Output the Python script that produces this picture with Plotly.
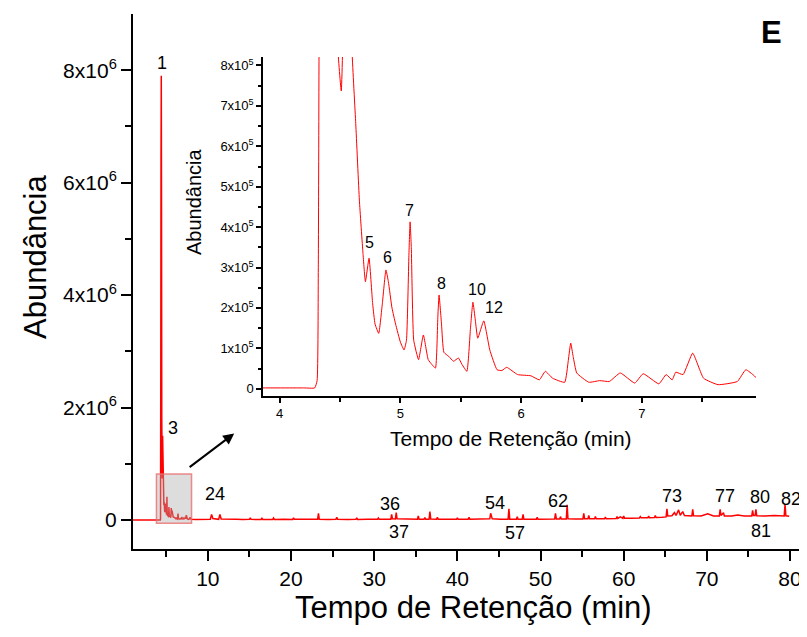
import plotly.graph_objects as go

# ---- dados (tempo em min, abundância em milhares de contagens) ----
trecho_inicial = [
    (1.0, 2), (3.0, 2), (4.20, 2), (4.29, 2), (4.31, 20), (4.32, 300), (4.34, 2500), (4.37, 6500),
    (4.40, 7900), (4.43, 5500), (4.46, 1800), (4.48, 850), (4.51, 737), (4.53, 950),
    (4.56, 1500), (4.58, 1100), (4.60, 830), (4.63, 656), (4.66, 467), (4.69, 335),
    (4.71, 265), (4.74, 323), (4.77, 210), (4.79, 160), (4.82, 137), (4.85, 210),
    (4.88, 294), (4.90, 265), (4.93, 200), (4.96, 160), (5.00, 115), (5.03, 96),
    (5.05, 120), (5.07, 330), (5.08, 413), (5.09, 350), (5.11, 120), (5.15, 72),
    (5.19, 133), (5.23, 72), (5.26, 60), (5.29, 51), (5.31, 180), (5.32, 232),
    (5.34, 160), (5.36, 90), (5.40, 80), (5.44, 68), (5.48, 76), (5.51, 60),
    (5.55, 43), (5.58, 150), (5.60, 214), (5.62, 170), (5.64, 125), (5.69, 168),
    (5.74, 96), (5.80, 47), (5.84, 45), (5.88, 53), (5.97, 35), (6.08, 32),
    (6.15, 22), (6.20, 43), (6.26, 26), (6.36, 16), (6.39, 70), (6.41, 113),
    (6.43, 80), (6.46, 39), (6.56, 16), (6.65, 20), (6.73, 18), (6.82, 39),
    (6.94, 14), (7.01, 37), (7.14, 12), (7.20, 35), (7.25, 22), (7.28, 41),
    (7.34, 35), (7.42, 88), (7.51, 26), (7.63, 10), (7.79, 18), (7.86, 47),
    (7.93, 32),
]

trecho_final = [
    (8.0, 12), (8.6, 9), (9.3, 11), (10.0, 10), (10.3, 14), (10.45, 100), (10.6, 25),
    (11.3, 12), (11.45, 100), (11.6, 18), (12.5, 9), (13.4, 12), (14.2, 10),
    (15.0, 11), (15.1, 40), (15.2, 11), (16.4, 9), (16.5, 30), (16.6, 9),
    (17.8, 10), (17.9, 35), (18.0, 10), (19.2, 12), (20.2, 10), (20.3, 40), (20.4, 11),
    (21.6, 12), (23.2, 11), (23.3, 120), (23.4, 12), (24.5, 10), (25.4, 11), (25.5, 50),
    (25.6, 12), (26.8, 10), (27.8, 11), (27.9, 40), (28.0, 10), (29.2, 12),
    (30.4, 11), (30.5, 35), (30.6, 12), (31.5, 13), (32.0, 14), (32.1, 100), (32.2, 20),
    (32.55, 18), (32.65, 130), (32.75, 20), (33.8, 12), (35.2, 12), (35.3, 70), (35.4, 13),
    (36.0, 14), (36.1, 40), (36.2, 14), (36.6, 14), (36.7, 150), (36.8, 18),
    (37.5, 14), (37.6, 50), (37.7, 14), (38.8, 12), (39.9, 12), (40.0, 40), (40.1, 12),
    (41.3, 13), (41.4, 50), (41.5, 13), (42.8, 12), (43.9, 20), (44.0, 120), (44.2, 20),
    (45.2, 12), (46.1, 14), (46.2, 200), (46.3, 15), (47.1, 14), (47.2, 60), (47.3, 14),
    (47.8, 15), (47.9, 100), (48.0, 15), (49.5, 14), (49.6, 50), (49.7, 14),
    (50.8, 15), (51.7, 16), (51.8, 120), (51.9, 18), (52.3, 17), (52.4, 60), (52.5, 18),
    (53.1, 18), (53.2, 270), (53.3, 20), (54.2, 16), (55.1, 18), (55.2, 120), (55.3, 20),
    (55.7, 20), (55.8, 80), (55.9, 20), (56.5, 20), (56.6, 60), (56.7, 22),
    (57.7, 22), (57.8, 50), (57.9, 22), (58.6, 25), (59.1, 27), (59.2, 60), (59.3, 28),
    (59.6, 55), (59.9, 30), (60.0, 70), (60.1, 32), (61.0, 33), (61.9, 36), (62.0, 60),
    (62.1, 38), (62.9, 40), (63.0, 70), (63.1, 40), (63.7, 42), (63.8, 80), (63.9, 45),
    (64.6, 48), (65.1, 55), (65.2, 200), (65.3, 70), (65.8, 75), (66.1, 130), (66.3, 80),
    (66.6, 180), (66.8, 85), (67.1, 150), (67.3, 80), (67.8, 75), (68.2, 70), (68.3, 190),
    (68.4, 75), (69.3, 70), (70.1, 110), (70.8, 72), (71.5, 70), (71.6, 190), (71.7, 80),
    (72.0, 130), (72.1, 72), (73.0, 70), (73.7, 90), (74.5, 72), (75.4, 70), (75.5, 170),
    (75.6, 80), (75.8, 80), (75.9, 190), (76.0, 75), (77.0, 70), (78.1, 80), (78.8, 68),
    (79.3, 70), (79.4, 280), (79.5, 75), (79.9, 65),
]

picos_principal = ["1", "3", "24", "36", "37", "54", "57", "62", "73", "77", "80", "81", "82"]
picos_detalhe = ["5", "6", "7", "8", "10", "12"]

ticks_x_principal = [10, 20, 30, 40, 50, 60, 70, 80]
ticks_y_principal = [0, 2e6, 4e6, 6e6, 8e6]
rotulos_y_principal = ["0", "2x10<sup>6</sup>", "4x10<sup>6</sup>", "6x10<sup>6</sup>", "8x10<sup>6</sup>"]
ticks_x_detalhe = [4, 5, 6, 7]
ticks_y_detalhe = [0, 1e5, 2e5, 3e5, 4e5, 5e5, 6e5, 7e5, 8e5]
rotulos_y_detalhe = ["0"] + ["%dx10<sup>5</sup>" % k for k in range(1, 9)]

# ---- montagem ----
pontos = trecho_inicial + trecho_final
tempo = [p[0] for p in pontos]
abund = [p[1] * 1000 for p in pontos]

FONTE = "Liberation Sans, Arial, sans-serif"
VERM = "#ff0000"

fig = go.Figure()
fig.add_trace(go.Scatter(x=tempo, y=abund, mode="lines", xaxis="x", yaxis="y",
                         line=dict(color=VERM, width=1.5), hoverinfo="skip", showlegend=False))
fig.add_trace(go.Scatter(x=tempo, y=abund, mode="lines", xaxis="x2", yaxis="y2",
                         line=dict(color=VERM, width=1, shape="spline", smoothing=0.4),
                         hoverinfo="skip", showlegend=False))

eixo_comum = dict(showline=True, linecolor="black", showgrid=False, zeroline=False,
                  ticks="outside", tickcolor="black", mirror=False, automargin=False)

# the page body adds an 8 px offset, so the plot area is laid out 8 px up/left
fig.update_layout(
    width=807, height=637,
    margin=dict(l=125, r=15, t=6, b=96),
    paper_bgcolor="white", plot_bgcolor="white",
    font=dict(family=FONTE, color="black"),
    showlegend=False,
    xaxis=dict(**eixo_comum, domain=[0, 1], range=[1.0, 81.2], linewidth=2, tickwidth=2, ticklen=10,
               tickmode="array", tickvals=ticks_x_principal, tickfont=dict(size=21),
               minor=dict(tickmode="array", tickvals=[5, 15, 25, 35, 45, 55, 65, 75],
                          ticks="outside", ticklen=6, tickwidth=2, tickcolor="black")),
    yaxis=dict(**eixo_comum, domain=[0, 1], range=[-516e3, 9.0e6], linewidth=2, tickwidth=2, ticklen=10,
               tickmode="array", tickvals=ticks_y_principal, ticktext=rotulos_y_principal,
               tickfont=dict(size=21),
               minor=dict(tickmode="array", tickvals=[1e6, 3e6, 5e6, 7e6],
                          ticks="outside", ticklen=6, tickwidth=2, tickcolor="black")),
    xaxis2=dict(**eixo_comum, domain=[0.1949, 0.934], anchor="y2", range=[3.862, 7.944],
                linewidth=1.5, tickwidth=1.5, ticklen=5,
                tickmode="array", tickvals=ticks_x_detalhe, tickfont=dict(size=13),
                minor=dict(tickmode="array", tickvals=[4.5, 5.5, 6.5, 7.5],
                           ticks="outside", ticklen=4, tickwidth=1.5, tickcolor="black")),
    yaxis2=dict(**eixo_comum, domain=[0.286, 0.9196], anchor="x2", range=[-18e3, 821e3],
                linewidth=1.5, tickwidth=1.5, ticklen=5,
                tickmode="array", tickvals=ticks_y_detalhe, ticktext=rotulos_y_detalhe,
                tickfont=dict(size=13),
                minor=dict(tickmode="array", tickvals=[0.5e5, 1.5e5, 2.5e5, 3.5e5, 4.5e5, 5.5e5, 6.5e5, 7.5e5],
                           ticks="outside", ticklen=3, tickwidth=1.5, tickcolor="black")),
)

# caixa de destaque e seta
fig.add_shape(type="rect", xref="x", yref="y", x0=3.82, x1=8.04, y0=-59e3, y1=818e3,
              fillcolor="rgba(170,170,170,0.4)", line=dict(color="rgba(235,110,110,0.8)", width=1.5),
              layer="above")
fig.add_annotation(x=13.17, y=1.54e6, ax=7.63, ay=0.92e6, xref="x", yref="y", axref="x", ayref="y",
                   text="", showarrow=True, arrowhead=2, arrowsize=1.1, arrowwidth=2, arrowcolor="black")

# rótulos dos picos (gráfico principal)
pos_principal = [(4.49, 8120e3), (5.82, 1630e3), (10.84, 460e3), (31.85, 280e3), (32.93, -210e3),
                 (44.58, 300e3), (46.99, -240e3), (52.08, 340e3), (65.78, 430e3), (72.17, 430e3),
                 (76.39, 410e3), (76.5, -190e3), (80.12, 370e3)]
for txt, (px, py) in zip(picos_principal, pos_principal):
    fig.add_annotation(x=px, y=py, xref="x", yref="y", text=txt, showarrow=False,
                       xanchor="center", yanchor="middle",
                       font=dict(size=18, family=FONTE, color="black"))

pos_detalhe = [(4.748, 362e3), (4.894, 325e3), (5.074, 442e3), (5.336, 261e3), (5.636, 245e3), (5.778, 201e3)]
for txt, (px, py) in zip(picos_detalhe, pos_detalhe):
    fig.add_annotation(x=px, y=py, xref="x2", yref="y2", text=txt, showarrow=False,
                       xanchor="center", yanchor="middle",
                       font=dict(size=16, family=FONTE, color="black"))

# títulos dos eixos (posições em pixels da tela convertidas para o papel)
def rot_paper(px, py):
    return (px - 133) / 667, (549 - py) / 535

def titulo(px, py, txt, tam, ang=0):
    x, y = rot_paper(px, py)
    fig.add_annotation(x=x, y=y, xref="paper", yref="paper", text=txt, textangle=ang,
                       xanchor="center", yanchor="middle", showarrow=False,
                       font=dict(size=tam, family=FONTE, color="black"))

titulo(35, 256, "Abundância", 31, -90)
titulo(473, 607, "Tempo de Retenção (min)", 31)
titulo(194, 202, "Abundância", 20, -90)
titulo(511, 438, "Tempo de Retenção (min)", 21)
titulo(771, 33, "<b>E</b>", 31)

fig.write_html("out.html")
